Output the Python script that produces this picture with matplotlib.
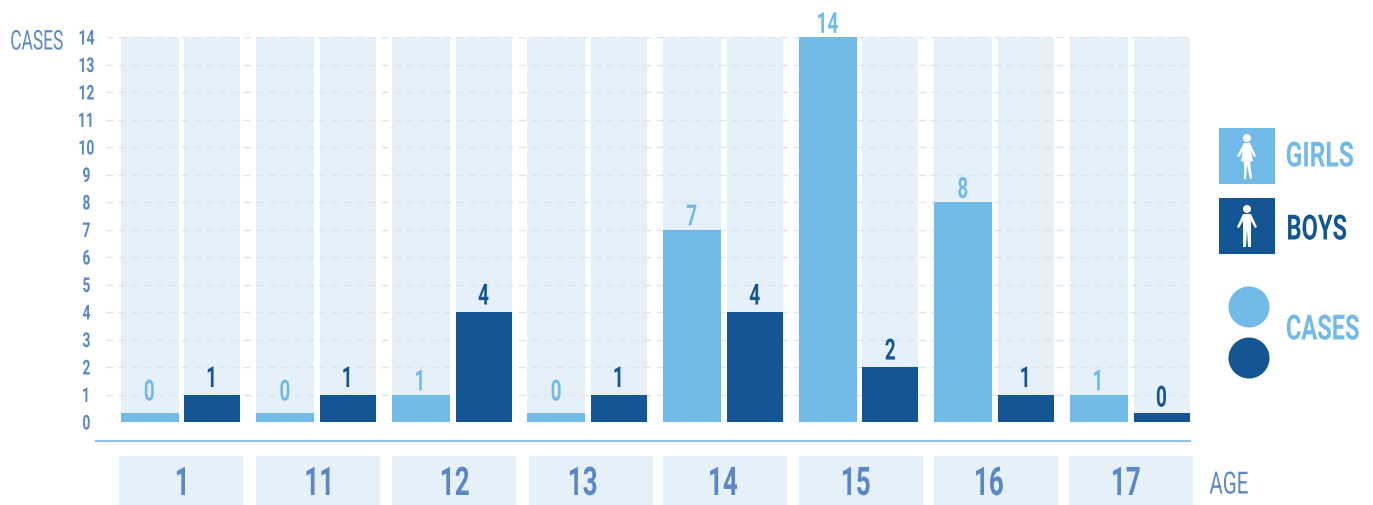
import matplotlib
matplotlib.use("Agg")
import matplotlib.pyplot as plt
from matplotlib.patches import Rectangle, Circle, Polygon
from matplotlib.patheffects import AbstractPathEffect
from matplotlib.transforms import Affine2D

ages = ['1', '11', '12', '13', '14', '15', '16', '17']
girls = [0, 0, 1, 0, 7, 14, 8, 1]
boys = [1, 1, 4, 1, 4, 2, 1, 0]
yticks = list(range(0, 15))

LIGHT = '#72BBE9'
DARK = '#145694'
TEXT = '#5A88C6'
BACK = '#E6F0F9'
STUB = 0.33  # zero still gets a small bar in the original

plt.rcParams['font.family'] = ['Roboto', 'DejaVu Sans']


# no condensed font here, so squeeze the glyphs sideways about their centre
class Squeeze(AbstractPathEffect):
    def __init__(self, sx):
        super().__init__()
        self.sx = sx

    def draw_path(self, renderer, gc, tpath, affine, rgbFace=None):
        xs = tpath.vertices[:, 0]
        cx = (xs.min() + xs.max()) / 2
        aff = Affine2D().translate(-cx, 0).scale(self.sx, 1).translate(cx, 0) + affine
        renderer.draw_path(gc, tpath, aff, rgbFace)


W, H = 1373, 506
fig = plt.figure(figsize=(W / 100, H / 100), dpi=100)
ax = fig.add_axes([106 / W, 1 - 423 / H, (1190 - 106) / W, (423 - 38) / H])
ax.set_xlim(-0.553, 7.441)
ax.set_ylim(0, 14)
ax.patch.set_visible(False)
for s in ax.spines.values():
    s.set_visible(False)

off = 0.232
for i in range(len(ages)):
    ax.bar(i - off, 14, 0.428, color=BACK, zorder=1)
    ax.bar(i + off, 14, 0.413, color=BACK, zorder=1)
    ax.bar(i - off, max(girls[i], STUB), 0.428, color=LIGHT, zorder=3)
    ax.bar(i + off, max(boys[i], STUB), 0.413, color=DARK, zorder=3)
    gy = girls[i] + 0.15 if girls[i] else 0.78
    by = boys[i] + 0.27 if boys[i] else 0.56
    ax.text(i - off, gy, str(girls[i]), ha='center', va='baseline', color=LIGHT, fontsize=21,
            fontweight='bold', zorder=4, clip_on=False, path_effects=[Squeeze(0.65)])
    ax.text(i + off, by, str(boys[i]), ha='center', va='baseline', color=DARK, fontsize=21,
            fontweight='bold', zorder=4, clip_on=False, path_effects=[Squeeze(0.65)])

ax.set_yticks(yticks)
ax.set_xticks([])
ax.tick_params(axis='y', length=0, pad=14, labelsize=14.7, labelcolor=TEXT)
for t in ax.get_yticklabels():
    t.set_fontweight('bold')
    t.set_ha('center')
    t.set_path_effects([Squeeze(0.68)])
ax.grid(axis='y', color='#DDE4EA', lw=1, ls=(0, (5, 4)))
ax.set_axisbelow(False)

# overlay in pixel coordinates for the decoration around the plot
ov = fig.add_axes([0, 0, 1, 1])
ov.set_xlim(0, W)
ov.set_ylim(H - 1, -1)
ov.axis('off')
ov.patch.set_visible(False)

ov.text(37, 42, 'CASES', color=TEXT, fontsize=19.5, ha='center', va='center', path_effects=[Squeeze(0.64)])
ov.plot([96, 1190], [441, 441], color='#93C2E8', lw=1.6)

tile_left = [119, 256, 392, 529, 663, 799, 934, 1069]
label_x = [183.5, 320.5, 455, 583, 723, 856, 989, 1126]
for a, l, lx in zip(ages, tile_left, label_x):
    ov.add_patch(Rectangle((l, 456), 124, 50, color=BACK, lw=0))
    ov.text(lx, 484.5, a, color=TEXT, fontsize=28.4, fontweight='bold', ha='center', va='center',
            path_effects=[Squeeze(0.66)])
ov.text(1229, 485, 'AGE', color=TEXT, fontsize=22, ha='center', va='center', path_effects=[Squeeze(0.67)])

# legend
ov.add_patch(Rectangle((1219, 128), 56, 56, color=LIGHT, lw=0))
ov.add_patch(Rectangle((1219, 198), 56, 56, color=DARK, lw=0))
ov.text(1320, 157, 'GIRLS', color=LIGHT, fontsize=25, fontweight='bold', ha='center', va='center',
        path_effects=[Squeeze(0.71)])
ov.text(1317, 230, 'BOYS', color=DARK, fontsize=25, fontweight='bold', ha='center', va='center',
        path_effects=[Squeeze(0.68)])
ov.text(1323, 330, 'CASES', color=LIGHT, fontsize=25, fontweight='bold', ha='center', va='center',
        path_effects=[Squeeze(0.68)])
ov.add_patch(Circle((1249, 307), 20.5, color=LIGHT, lw=0))
ov.add_patch(Circle((1249, 358), 20.5, color=DARK, lw=0))

# girl icon
ov.add_patch(Circle((1247, 138), 4, color='white', lw=0))
ov.add_patch(Polygon([(1244, 143), (1250, 143), (1256, 156), (1254, 157), (1251, 151), (1253, 161),
                      (1250, 162), (1252, 178), (1250, 179), (1247, 165), (1246, 179), (1244, 179),
                      (1244, 162), (1241, 161), (1243, 151), (1239, 157), (1237, 156)],
                     color='white', lw=0))
# boy icon
ov.add_patch(Circle((1247, 209), 4, color='white', lw=0))
ov.add_patch(Polygon([(1243, 214), (1251, 214), (1257, 227), (1255, 228), (1251, 221), (1251, 247),
                      (1248, 247), (1247, 230), (1246, 247), (1243, 247), (1243, 221), (1239, 228),
                      (1237, 227)], color='white', lw=0))

fig.savefig('out.png', dpi=100)
